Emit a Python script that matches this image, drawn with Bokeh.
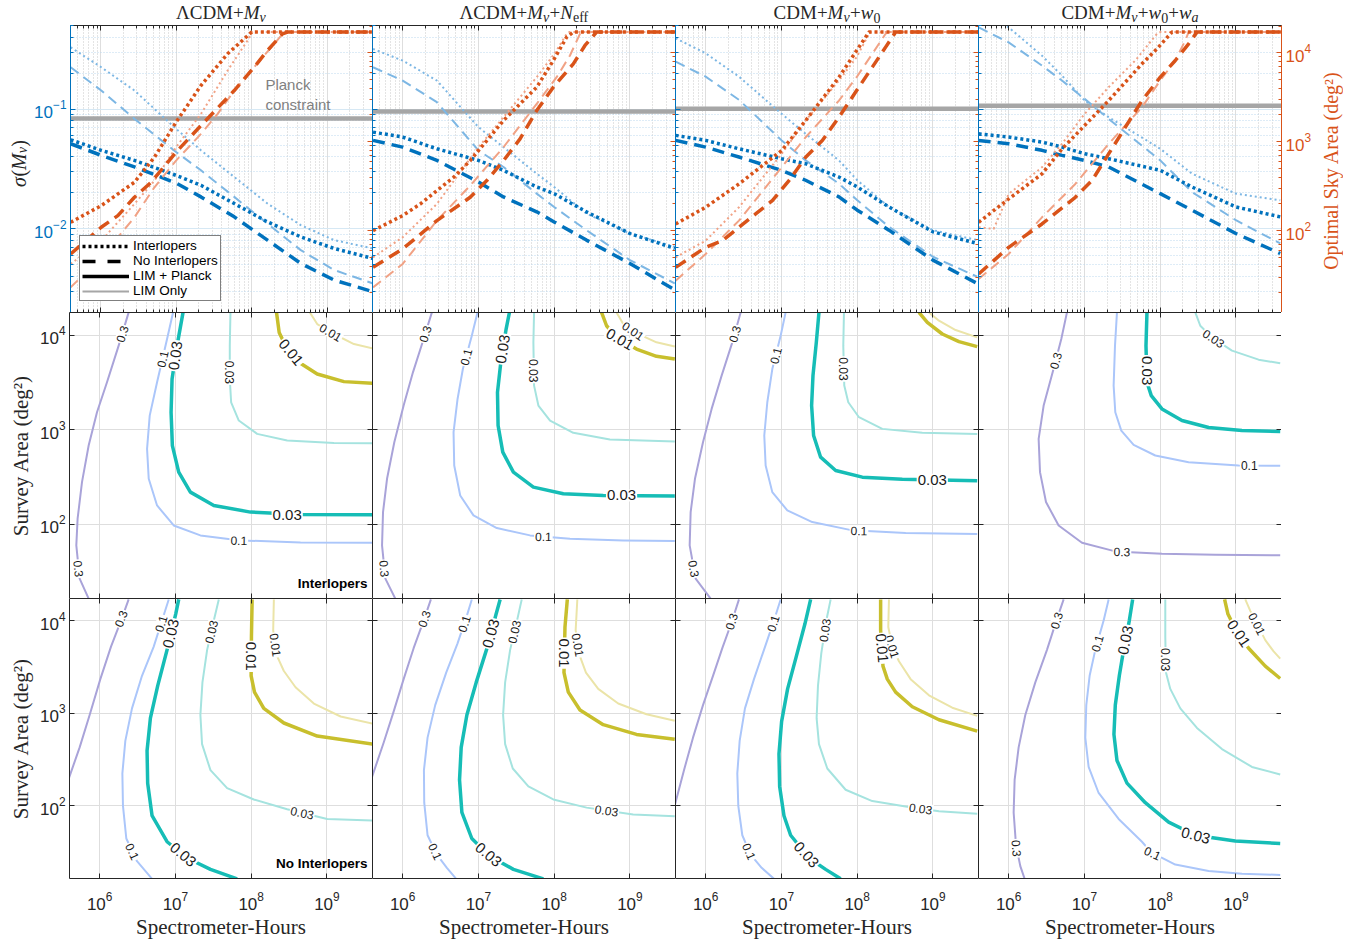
import math
from bokeh.plotting import figure
from bokeh.models import (Range1d, LogAxis, LogScale, FixedTicker, Grid, Label,
                          Legend, LegendItem, CustomJSTickFormatter)
from bokeh.layouts import column, row
from bokeh.embed import file_html
from bokeh.resources import INLINE
from bokeh.core.properties import value

# ----------------------------------------------------------------- data
X_RANGE = (4.0e5, 4.0e9)
SIGMA_RANGE = (0.002, 0.5)
OPT_AREA_RANGE = (12.0, 20300.0)
SURVEY_RANGE = (16.5, 17300.0)
X_TICKS = [1e6, 1e7, 1e8, 1e9]
SIGMA_TICKS = [1e-2, 1e-1]
AREA_TICKS = [1e2, 1e3, 1e4]

TITLES = [
    [("ΛCDM+", False, False), ("M", True, False), ("ν", True, True)],
    [("ΛCDM+", False, False), ("M", True, False), ("ν", True, True), ("+", False, False),
     ("N", True, False), ("eff", False, True)],
    [("CDM+", False, False), ("M", True, False), ("ν", True, True), ("+", False, False),
     ("w", True, False), ("0", False, True)],
    [("CDM+", False, False), ("M", True, False), ("ν", True, True), ("+", False, False),
     ("w", True, False), ("0", False, True), ("+", False, False), ("w", True, False),
     ("a", True, True)],
]
PLANCK_SIGMA = [0.0835, 0.0957, 0.101, 0.107]

# top row, sigma(M_nu): log10(hours) and log10(sigma) per panel
SIG_X = [
    [5.604, 6.009, 6.449, 7.000, 7.330, 7.771, 8.211, 8.652, 9.093, 9.608],
    [5.609, 6.000, 6.452, 7.000, 7.331, 7.770, 8.000, 8.426, 9.000, 9.593],
    [5.604, 6.000, 6.440, 7.003, 7.320, 7.760, 8.002, 8.420, 9.000, 9.585],
    [5.604, 6.000, 6.440, 6.704, 7.003, 7.320, 8.002, 8.420, 9.000, 9.585],
]
SIG_INT_PLANCK = [
    [-1.256, -1.344, -1.428, -1.553, -1.636, -1.789, -1.942, -2.067, -2.164, -2.247],
    [-1.192, -1.233, -1.331, -1.428, -1.511, -1.650, -1.706, -1.858, -2.039, -2.164],
    [-1.219, -1.261, -1.331, -1.414, -1.456, -1.567, -1.650, -1.817, -2.025, -2.122],
    [-1.206, -1.233, -1.275, -1.317, -1.372, -1.414, -1.511, -1.650, -1.817, -1.900],
]
SIG_NOINT_PLANCK = [
    [-1.289, -1.386, -1.483, -1.617, -1.733, -1.900, -2.094, -2.289, -2.428, -2.525],
    [-1.261, -1.317, -1.428, -1.608, -1.733, -1.858, -1.942, -2.094, -2.289, -2.511],
    [-1.261, -1.317, -1.400, -1.511, -1.594, -1.733, -1.844, -2.011, -2.261, -2.456],
    [-1.261, -1.289, -1.344, -1.386, -1.428, -1.483, -1.706, -1.844, -2.039, -2.206],
]
SIG_INT_LIM = [
    [-0.483, -0.650, -0.844, -1.164, -1.344, -1.567, -1.789, -1.969, -2.094, -2.164],
    [-0.497, -0.594, -0.761, -1.150, -1.317, -1.539, -1.650, -1.872, -2.039, -2.150],
    [-0.408, -0.533, -0.728, -1.039, -1.206, -1.428, -1.594, -1.817, -2.011, -2.094],
    [-0.136, -0.317, -0.553, -0.719, -0.928, -1.067, -1.331, -1.539, -1.706, -1.761],
]
SIG_NOINT_LIM = [
    [-0.650, -0.844, -1.081, -1.358, -1.511, -1.733, -1.956, -2.178, -2.344, -2.456],
    [-0.650, -0.761, -0.942, -1.344, -1.483, -1.706, -1.817, -2.011, -2.261, -2.456],
    [-0.603, -0.728, -0.922, -1.261, -1.428, -1.622, -1.761, -1.983, -2.233, -2.400],
    [-0.317, -0.442, -0.636, -0.761, -0.914, -1.081, -1.428, -1.692, -1.928, -2.122],
]

# top row, optimal sky area: (log10 hours, log10 deg^2) per panel
AREA_INT_PLANCK = [
    [(5.604, 2.094), (6.009, 2.281), (6.449, 2.544), (6.714, 2.826), (7.000, 3.220), (7.330, 3.632),
     (7.683, 3.989), (8.000, 4.233), (9.61, 4.233)],
    [(5.609, 2.000), (6.000, 2.169), (6.233, 2.300), (6.452, 2.450), (6.672, 2.600), (6.892, 2.788),
     (7.111, 3.013), (7.331, 3.238), (7.550, 3.426), (7.770, 3.613), (7.989, 3.914), (8.165, 4.176),
     (8.253, 4.233), (9.61, 4.233)],
    [(5.604, 2.075), (6.000, 2.263), (6.440, 2.525), (7.003, 2.901), (7.320, 3.238), (7.760, 3.726),
     (7.993, 4.026), (8.156, 4.233), (9.61, 4.233)],
    [(5.604, 2.094), (6.000, 2.356), (6.440, 2.638), (6.704, 2.919), (7.003, 3.182), (7.320, 3.463),
     (7.760, 3.876), (7.958, 4.045), (8.156, 4.233), (9.61, 4.233)],
]
AREA_NOINT_PLANCK = [
    [(5.604, 1.737), (6.009, 2.038), (6.229, 2.169), (6.449, 2.375), (6.670, 2.544), (7.000, 2.882),
     (7.330, 3.182), (7.771, 3.576), (8.035, 3.839), (8.211, 4.026), (8.410, 4.214), (8.476, 4.233),
     (9.61, 4.233)],
    [(5.609, 1.587), (6.000, 1.794), (6.452, 2.113), (6.892, 2.375), (7.111, 2.563), (7.331, 2.788),
     (7.550, 3.032), (7.770, 3.351), (7.989, 3.614), (8.253, 3.876), (8.407, 4.083), (8.560, 4.233),
     (9.61, 4.233)],
    [(5.604, 1.587), (6.000, 1.812), (6.220, 1.887), (6.440, 2.038), (6.660, 2.188), (6.880, 2.338),
     (7.100, 2.563), (7.320, 2.826), (7.540, 3.013), (7.760, 3.276), (7.993, 3.576), (8.200, 3.839),
     (8.376, 4.064), (8.508, 4.233), (9.61, 4.233)],
    [(5.604, 1.512), (6.000, 1.812), (6.440, 2.075), (6.880, 2.375), (7.100, 2.563), (7.320, 2.863),
     (7.540, 3.163), (7.760, 3.463), (8.002, 3.726), (8.200, 3.914), (8.376, 4.101), (8.486, 4.233),
     (9.61, 4.233)],
]
AREA_INT_LIM = [
    [(5.604, 1.625), (6.009, 1.887), (6.449, 2.300), (6.714, 2.563), (7.000, 2.938), (7.330, 3.313),
     (7.683, 3.801), (7.947, 4.139), (8.013, 4.233), (9.61, 4.233)],
    [(5.609, 1.700), (6.000, 1.925), (6.452, 2.300), (7.001, 2.938), (7.331, 3.276), (7.770, 3.726),
     (8.003, 3.989), (8.165, 4.214), (8.200, 4.233), (9.61, 4.233)],
    [(5.604, 1.700), (6.000, 1.887), (6.440, 2.263), (7.003, 2.863), (7.320, 3.238), (7.760, 3.689),
     (7.993, 3.951), (8.156, 4.214), (8.190, 4.233), (9.61, 4.233)],
    [(5.604, 2.038), (5.802, 2.019), (6.000, 2.413), (6.440, 2.713), (6.704, 2.976), (7.003, 3.313),
     (7.320, 3.613), (7.672, 3.914), (7.958, 4.214), (8.002, 4.233), (9.61, 4.233)],
]
AREA_NOINT_LIM = [
    [(5.604, 1.362), (6.009, 1.700), (6.449, 2.150), (6.714, 2.488), (7.000, 2.788), (7.330, 3.088),
     (7.551, 3.313), (7.771, 3.576), (8.035, 3.839), (8.300, 4.101), (8.432, 4.233), (9.61, 4.233)],
    [(5.609, 1.362), (6.000, 1.625), (6.452, 2.113), (6.892, 2.507), (7.331, 2.938), (7.770, 3.426),
     (8.033, 3.726), (8.209, 3.970), (8.341, 4.214), (8.370, 4.233), (9.61, 4.233)],
    [(5.604, 1.437), (6.000, 1.737), (6.440, 2.113), (7.003, 2.713), (7.320, 3.051), (7.760, 3.463),
     (7.993, 3.726), (8.200, 3.989), (8.376, 4.214), (8.400, 4.233), (9.61, 4.233)],
    [(5.604, 1.456), (6.000, 1.737), (6.440, 2.150), (6.880, 2.525), (7.320, 2.976), (7.760, 3.388),
     (8.002, 3.689), (8.200, 3.914), (8.332, 4.139), (8.376, 4.233), (9.61, 4.233)],
]

# contour rows: (level, thick, [(log10 hours, log10 area), ...]) per panel
MID_CONTOURS = [
    [("0.3", False, [(6.383, 4.239), (6.251, 3.888), (6.097, 3.501), (5.965, 3.185), (5.855, 2.833), (5.767, 2.446),
                     (5.709, 2.060), (5.692, 1.779), (5.736, 1.427), (5.855, 1.216)]),
     ("0.1", False, [(6.969, 4.239), (6.890, 3.958), (6.758, 3.501), (6.661, 3.149), (6.626, 2.798), (6.648, 2.482),
                     (6.758, 2.200), (6.978, 1.989), (7.330, 1.884), (7.859, 1.831), (8.652, 1.810), (9.608, 1.807)]),
     ("0.03", True, [(7.101, 4.239), (7.022, 3.888), (6.956, 3.536), (6.943, 3.185), (6.960, 2.833), (7.044, 2.552),
                     (7.198, 2.341), (7.507, 2.200), (7.991, 2.130), (8.652, 2.105), (9.608, 2.102)]),
     ("0.03", False, [(7.727, 4.239), (7.718, 3.888), (7.718, 3.536), (7.736, 3.290), (7.837, 3.097), (8.079, 2.956),
                      (8.476, 2.886), (9.093, 2.861), (9.608, 2.858)]),
     ("0.01", True, [(8.335, 4.239), (8.370, 4.028), (8.454, 3.888), (8.630, 3.712), (8.872, 3.589), (9.225, 3.508),
                     (9.608, 3.490)]),
     ("0.01", False, [(8.775, 4.239), (8.872, 4.116), (9.093, 4.011), (9.357, 3.905), (9.608, 3.859)])],
    [("0.3", False, [(6.386, 4.239), (6.277, 3.958), (6.136, 3.606), (6.013, 3.255), (5.890, 2.868), (5.794, 2.482),
                     (5.741, 2.130), (5.728, 1.779), (5.772, 1.427), (5.903, 1.216)]),
     ("0.1", False, [(6.988, 4.239), (6.913, 3.993), (6.795, 3.641), (6.725, 3.325), (6.672, 2.974), (6.681, 2.622),
                     (6.760, 2.306), (6.935, 2.095), (7.243, 1.961), (7.682, 1.884), (8.209, 1.849), (8.912, 1.831),
                     (9.593, 1.824)]),
     ("0.03", True, [(7.410, 4.239), (7.366, 4.063), (7.296, 3.712), (7.252, 3.395), (7.260, 3.044), (7.322, 2.763),
                     (7.462, 2.552), (7.726, 2.394), (8.121, 2.323), (8.648, 2.306), (9.593, 2.299)]),
     ("0.03", False, [(7.735, 4.239), (7.726, 3.923), (7.735, 3.466), (7.792, 3.255), (7.946, 3.097), (8.253, 2.967),
                      (8.736, 2.896), (9.593, 2.875)]),
     ("0.01", True, [(8.626, 4.239), (8.692, 4.098), (8.824, 3.975), (9.087, 3.852), (9.351, 3.775), (9.593, 3.747)]),
     ("0.01", False, [(8.824, 4.239), (8.912, 4.116), (9.087, 4.021), (9.351, 3.923), (9.593, 3.880)])],
    [("0.3", False, [(6.462, 4.239), (6.352, 3.923), (6.211, 3.571), (6.079, 3.220), (5.965, 2.868), (5.859, 2.482),
                     (5.802, 2.130), (5.789, 1.779), (5.868, 1.427), (6.066, 1.216)]),
     ("0.1", False, [(7.056, 4.239), (6.990, 3.993), (6.880, 3.641), (6.814, 3.290), (6.774, 2.939), (6.792, 2.622),
                     (6.880, 2.341), (7.078, 2.148), (7.408, 2.025), (7.936, 1.937), (8.640, 1.909), (9.585, 1.898)]),
     ("0.03", True, [(7.496, 4.239), (7.461, 3.923), (7.417, 3.571), (7.399, 3.255), (7.425, 2.939), (7.518, 2.710),
                     (7.716, 2.570), (8.068, 2.499), (8.596, 2.478), (9.585, 2.461)]),
     ("0.03", False, [(7.826, 4.239), (7.817, 3.888), (7.830, 3.466), (7.883, 3.290), (8.024, 3.132), (8.332, 3.009),
                      (8.860, 2.967), (9.585, 2.956)]),
     ("0.01", True, [(8.816, 4.239), (8.926, 4.134), (9.124, 4.011), (9.344, 3.930), (9.585, 3.877)]),
     ("0.01", False, [(8.948, 4.239), (9.080, 4.151), (9.300, 4.053), (9.585, 3.975)])],
    [("0.3", False, [(6.770, 4.239), (6.695, 3.958), (6.581, 3.606), (6.462, 3.255), (6.396, 2.903), (6.414, 2.552),
                     (6.493, 2.236), (6.660, 1.989), (6.968, 1.807), (7.408, 1.715), (8.024, 1.691), (8.728, 1.680),
                     (9.585, 1.673)]),
     ("0.1", False, [(7.430, 4.239), (7.404, 3.888), (7.386, 3.466), (7.408, 3.185), (7.487, 2.991), (7.650, 2.840),
                     (7.936, 2.728), (8.376, 2.657), (9.036, 2.622), (9.585, 2.619)]),
     ("0.03", True, [(7.826, 4.239), (7.813, 3.888), (7.826, 3.501), (7.883, 3.360), (8.024, 3.220), (8.288, 3.097),
                     (8.640, 3.023), (9.080, 2.991), (9.585, 2.981)]),
     ("0.03", False, [(8.464, 4.239), (8.530, 4.098), (8.684, 3.975), (8.948, 3.835), (9.300, 3.740), (9.585, 3.701)])],
]
BOT_CONTOURS = [
    [("0.3", False, [(6.383, 4.228), (6.282, 4.000), (6.150, 3.719), (6.009, 3.368), (5.868, 2.982), (5.736, 2.632),
                     (5.590, 2.290)]),
     ("0.1", False, [(6.912, 4.228), (6.837, 4.035), (6.714, 3.719), (6.559, 3.404), (6.427, 3.053), (6.339, 2.702),
                     (6.300, 2.351), (6.308, 2.000), (6.352, 1.649), (6.493, 1.404), (6.692, 1.214)]),
     ("0.03", True, [(7.044, 4.228), (7.004, 4.070), (6.890, 3.684), (6.767, 3.298), (6.670, 2.947), (6.626, 2.596),
                     (6.634, 2.246), (6.692, 1.895), (6.890, 1.614), (7.154, 1.439), (7.463, 1.316), (7.815, 1.214)]),
     ("0.03", False, [(7.573, 4.228), (7.507, 4.000), (7.419, 3.684), (7.357, 3.333), (7.330, 2.982), (7.352, 2.667),
                      (7.463, 2.386), (7.683, 2.193), (8.035, 2.070), (8.476, 1.965), (9.004, 1.860), (9.608, 1.842)]),
     ("0.01", True, [(8.013, 4.228), (8.004, 3.825), (8.000, 3.404), (8.044, 3.228), (8.167, 3.053), (8.432, 2.895),
                     (8.872, 2.754), (9.608, 2.667)]),
     ("0.01", False, [(8.300, 4.228), (8.291, 3.895), (8.344, 3.614), (8.432, 3.456), (8.586, 3.281), (8.828, 3.105),
                      (9.181, 2.965), (9.608, 2.888)])],
    [("0.3", False, [(6.373, 4.228), (6.277, 4.000), (6.145, 3.702), (6.013, 3.368), (5.881, 3.018), (5.750, 2.684),
                     (5.590, 2.300)]),
     ("0.1", False, [(6.913, 4.228), (6.848, 4.053), (6.725, 3.754), (6.575, 3.439), (6.430, 3.088), (6.329, 2.737),
                     (6.281, 2.386), (6.285, 2.035), (6.329, 1.684), (6.452, 1.474), (6.584, 1.333), (6.707, 1.214)]),
     ("0.03", True, [(7.287, 4.228), (7.234, 4.070), (7.120, 3.719), (6.971, 3.333), (6.848, 2.982), (6.773, 2.632),
                     (6.751, 2.281), (6.782, 1.930), (6.913, 1.649), (7.155, 1.456), (7.462, 1.316), (7.858, 1.214)]),
     ("0.03", False, [(7.572, 4.228), (7.515, 4.018), (7.419, 3.684), (7.353, 3.333), (7.326, 2.982), (7.353, 2.667),
                      (7.454, 2.404), (7.660, 2.211), (7.989, 2.070), (8.429, 1.982), (9.043, 1.909), (9.592, 1.888)]),
     ("0.01", True, [(8.174, 4.228), (8.143, 3.930), (8.130, 3.439), (8.187, 3.228), (8.341, 3.035), (8.648, 2.877),
                     (9.087, 2.772), (9.592, 2.719)]),
     ("0.01", False, [(8.306, 4.228), (8.284, 3.895), (8.341, 3.614), (8.420, 3.439), (8.582, 3.263), (8.846, 3.105),
                      (9.219, 2.989), (9.592, 2.919)])],
    [("0.3", False, [(6.440, 4.228), (6.343, 3.982), (6.220, 3.702), (6.097, 3.404), (5.965, 3.088), (5.833, 2.737),
                     (5.714, 2.386), (5.590, 2.000)]),
     ("0.1", False, [(6.990, 4.228), (6.902, 4.000), (6.770, 3.684), (6.638, 3.368), (6.519, 3.053), (6.449, 2.702),
                     (6.418, 2.351), (6.431, 2.000), (6.484, 1.684), (6.594, 1.474), (6.739, 1.333), (6.902, 1.214)]),
     ("0.03", True, [(7.386, 4.228), (7.311, 3.965), (7.197, 3.614), (7.082, 3.263), (7.003, 2.912), (6.968, 2.561),
                     (6.977, 2.211), (7.034, 1.895), (7.122, 1.684), (7.364, 1.439), (7.584, 1.316), (7.782, 1.214)]),
     ("0.03", False, [(7.650, 4.228), (7.593, 4.000), (7.527, 3.649), (7.483, 3.298), (7.465, 2.947), (7.496, 2.667),
                      (7.606, 2.404), (7.848, 2.175), (8.200, 2.053), (8.640, 1.993), (9.080, 1.944), (9.585, 1.916)]),
     ("0.01", True, [(8.310, 4.228), (8.310, 3.895), (8.341, 3.509), (8.398, 3.368), (8.508, 3.228), (8.728, 3.070),
                     (9.080, 2.930), (9.585, 2.807)]),
     ("0.01", False, [(8.420, 4.228), (8.411, 3.930), (8.464, 3.719), (8.552, 3.561), (8.706, 3.368), (8.948, 3.193),
                      (9.256, 3.060), (9.585, 2.972)])],
    [("0.3", False, [(6.726, 4.228), (6.638, 4.018), (6.506, 3.684), (6.352, 3.333), (6.220, 2.982), (6.132, 2.632),
                     (6.079, 2.281), (6.066, 1.930), (6.097, 1.579), (6.154, 1.351), (6.211, 1.214)]),
     ("0.1", False, [(7.320, 4.228), (7.254, 4.000), (7.144, 3.684), (7.069, 3.404), (7.025, 3.088), (7.012, 2.737),
                     (7.056, 2.421), (7.188, 2.140), (7.452, 1.860), (7.760, 1.614), (7.883, 1.500), (8.200, 1.368),
                     (8.640, 1.298), (9.080, 1.270), (9.585, 1.256)]),
     ("0.03", True, [(7.637, 4.228), (7.593, 4.000), (7.518, 3.684), (7.461, 3.404), (7.408, 3.088), (7.390, 2.772),
                     (7.430, 2.491), (7.562, 2.246), (7.804, 2.035), (8.112, 1.825), (8.464, 1.684), (8.992, 1.621),
                     (9.585, 1.596)]),
     ("0.03", False, [(8.068, 4.228), (8.068, 3.825), (8.077, 3.439), (8.134, 3.263), (8.266, 3.053), (8.486, 2.842),
                      (8.816, 2.614), (9.212, 2.421), (9.585, 2.340)]),
     ("0.01", True, [(8.851, 4.228), (8.895, 4.070), (8.992, 3.912), (9.168, 3.702), (9.388, 3.509), (9.585, 3.375)]),
     ("0.01", False, [(9.124, 4.228), (9.190, 4.105), (9.278, 3.965), (9.388, 3.789), (9.498, 3.667), (9.585, 3.589)])],
]

# contour labels: (log10 hours, log10 area, text, angle in degrees, thick)
MID_LABELS = [
    [(6.297, 4.011, "0.3", 73, False), (5.723, 1.532, "0.3", -84, False), (6.829, 3.747, "0.1", 77, False),
     (7.002, 3.782, "0.03", 82, True), (7.718, 3.606, "0.03", -90, False), (8.525, 3.817, "0.01", -51, True),
     (9.05, 4.028, "0.01", -31, False), (8.476, 2.102, "0.03", 0, True), (7.837, 1.831, "0.1", -1, False)],
    [(6.298, 4.011, "0.3", 73, False), (5.759, 1.532, "0.3", -85, False), (6.837, 3.768, "0.1", 75, False),
     (7.324, 3.852, "0.03", 81, True), (7.731, 3.624, "0.03", -90, False), (8.890, 2.306, "0.03", 0, True),
     (7.858, 1.872, "0.1", -1, False), (8.868, 3.954, "0.01", -30, True), (9.044, 4.044, "0.01", -34, False)],
    [(6.383, 4.011, "0.3", 74, False), (5.844, 1.532, "0.3", -80, False), (6.924, 3.782, "0.1", 76, False),
     (7.817, 3.641, "0.03", -90, False), (8.992, 2.471, "0.03", 0, True), (8.024, 1.933, "0.1", -1, False)],
    [(6.621, 3.729, "0.3", 75, False), (7.496, 1.712, "0.3", -1, False), (7.822, 3.624, "0.03", -90, True),
     (8.706, 3.963, "0.03", -34, False), (9.176, 2.622, "0.1", 0, False)],
]
BOT_LABELS = [
    [(6.28, 4.02, "0.3", 70, False), (6.81, 3.965, "0.1", 73, False), (6.942, 3.86, "0.03", 77, True),
     (7.473, 3.877, "0.03", 77, False), (8.002, 3.614, "0.01", -90, True), (8.321, 3.737, "0.01", -82, False),
     (6.433, 1.509, "0.1", -65, False), (7.101, 1.474, "0.03", -40, True), (8.674, 1.926, "0.03", -12, False)],
    [(6.285, 4.018, "0.3", 71, False), (6.812, 3.965, "0.1", 72, False), (7.166, 3.860, "0.03", 75, True),
     (7.474, 3.877, "0.03", 77, False), (8.136, 3.649, "0.01", -90, True), (8.316, 3.737, "0.01", -80, False),
     (6.432, 1.509, "0.1", -65, False), (7.132, 1.474, "0.03", -40, True), (8.692, 1.951, "0.03", -8, False)],
    [(6.34, 3.99, "0.3", 73, False), (6.89, 3.97, "0.1", 72, False), (7.573, 3.895, "0.03", 81, False),
     (8.326, 3.702, "0.01", -85, True), (8.464, 3.719, "0.01", -73, False), (6.576, 1.509, "0.1", -67, False),
     (7.329, 1.474, "0.03", -48, True), (8.838, 1.971, "0.03", -8, False)],
    [(6.631, 4.0, "0.3", 72, False), (6.106, 1.544, "0.3", -86, False), (7.168, 3.754, "0.1", 74, False),
     (7.543, 3.789, "0.03", 79, True), (8.072, 3.579, "0.03", -90, False), (9.036, 3.86, "0.01", -56, True),
     (9.278, 3.965, "0.01", -63, False), (7.90, 1.49, "0.1", -25, False), (8.47, 1.68, "0.03", -15, True)],
]

# ----------------------------------------------------------------- style
SERIF = "Liberation Serif"
SANS = "Liberation Sans"
DARK = "#262626"
BLUE = "#0072BD"
BLUE_L = "#7db7e4"
ORANGE = "#D95319"
ORANGE_L = "#f1a285"
PLANCK_GRAY = "#a6a6a6"
CONTOUR_COLORS = {("0.3", False): "#a9a3d9", ("0.1", False): "#abc6fa", ("0.03", False): "#a5e3df",
                  ("0.01", False): "#ebe4a8", ("0.03", True): "#16bdb6", ("0.01", True): "#c8bf2d"}
GRID = "#dedede"
GRID_MINOR = "#c9c9c9"
GRID_BLUE = "#d6e8f4"
GRID_BLUE_MINOR = "#bcd9ee"

FRAME_W = 303
LEFT_B = 69          # page edge -> first frame
SIG_STRIP = 31       # strip holding the sigma(M_nu) label
RIGHT_B = 37         # last frame -> right strip
AREA_STRIP = 25      # strip holding the right axis label
TITLE_H = 25
BOT_B = 56
ROW_H = [287, 286, 287]
TICK_FONT = "17px"
LABEL_FONT = "21px"

W_REG = {"Λ": 0.722, "C": 0.667, "D": 0.722, "M": 0.889, "+": 0.564, "N": 0.722, "e": 0.444, "f": 0.333,
         "0": 0.5, "(": 0.333, ")": 0.333}
W_IT = {"M": 0.833, "N": 0.667, "w": 0.667, "ν": 0.47, "σ": 0.52, "a": 0.5}

BLANK = CustomJSTickFormatter(code="return ''")


def minor_list(lo, hi):
    out = []
    for e in range(-4, 11):
        for m in range(2, 10):
            v = m * 10.0 ** e
            if lo <= v <= hi:
                out.append(v)
    return out


def rich(p, segs, x, y, vertical=False, color=DARK, size=19, sub_size=14, sub_shift=5):
    """Text made of pieces (roman / italic / subscript), anchored at the middle of each piece."""
    ws = []
    for t, it, sub in segs:
        s = sub_size if sub else size
        ws.append(sum((W_IT if it else W_REG).get(ch, 0.5) for ch in t) * s)
    pos = -sum(ws) / 2
    for (t, it, sub), w in zip(segs, ws):
        s = sub_size if sub else size
        if vertical:
            lx, ly, ang = x + (sub_shift if sub else 0), y + pos, math.pi / 2
        else:
            lx, ly, ang = x + pos, y - (sub_shift if sub else 0), 0.0
        p.add_layout(Label(x=lx, y=ly, x_units="screen", y_units="screen", text=t, angle=ang,
                           text_font=SERIF, text_font_size=f"{s}px",
                           text_font_style="italic" if it else "normal", text_color=color,
                           text_align="left", text_baseline="middle"))
        pos += w


def blank_fig(w, h, bl=0, br=0):
    p = figure(width=w, height=h, x_range=Range1d(0, 1), y_range=Range1d(0, 1),
               x_axis_type=None, y_axis_type=None, output_backend="svg", toolbar_location=None,
               min_border_left=bl, min_border_right=br, min_border_top=0, min_border_bottom=0)
    p.outline_line_color = None
    return p


def add_axis(p, side, ticks, minor, color, labels, range_name=None, standoff=4):
    kw = {}
    if range_name:
        kw["y_range_name"] = range_name
    if not labels:
        kw["formatter"] = BLANK
    ax = LogAxis(ticker=FixedTicker(ticks=ticks, minor_ticks=minor), **kw)
    ax.axis_line_color = color
    ax.major_tick_line_color = color
    ax.minor_tick_line_color = color if minor else None
    ax.major_tick_in = 5
    ax.major_tick_out = 0
    ax.minor_tick_in = 3
    ax.minor_tick_out = 0
    ax.major_label_text_color = color
    ax.major_label_text_font = SANS
    if labels:
        ax.major_label_text_font_size = TICK_FONT
        ax.major_label_standoff = standoff
    else:
        ax.major_label_text_font_size = "1px"
        ax.major_label_standoff = 0
    p.add_layout(ax, side)
    return ax


def add_grid(p, dim, ticks, minor, color, minor_color=None):
    g = Grid(dimension=dim, ticker=FixedTicker(ticks=ticks, minor_ticks=minor),
             grid_line_color=color, grid_line_width=1)
    if minor:
        g.minor_grid_line_color = minor_color
        g.minor_grid_line_dash = "1 2"
    p.add_layout(g)


def base_fig(r, c, yr):
    if r == 0:
        bl = LEFT_B - SIG_STRIP if c == 0 else 0
        br = RIGHT_B if c == 3 else 0
    else:
        bl = LEFT_B if c == 0 else 0
        br = 0
    bb = BOT_B if r == 2 else 0
    p = figure(width=FRAME_W + bl + br, height=ROW_H[r] + bb, x_range=Range1d(*X_RANGE),
               y_range=Range1d(*yr), x_axis_type=None, y_axis_type=None, output_backend="svg",
               toolbar_location=None, min_border_left=bl, min_border_right=br,
               min_border_top=0, min_border_bottom=bb)
    p.x_scale = LogScale()
    p.y_scale = LogScale()
    p.outline_line_color = None
    return p


def L10(vals):
    return [10.0 ** v for v in vals]


x_minor = minor_list(*X_RANGE)

# ----------------------------------------------------------------- title row
title_figs = []
for c in range(4):
    bl = LEFT_B if c == 0 else 0
    t = blank_fig(FRAME_W + bl, TITLE_H, bl=bl)
    rich(t, TITLES[c], FRAME_W / 2, 13)
    title_figs.append(t)

# ----------------------------------------------------------------- top row
sig_strip = blank_fig(SIG_STRIP, ROW_H[0])
rich(sig_strip, [("σ", True, False), ("(", False, False), ("M", True, False), ("ν", True, True),
                 (")", False, False)], 18, 149, vertical=True, size=20, sub_size=14, sub_shift=4)
area_strip = blank_fig(AREA_STRIP, ROW_H[0])
area_strip.add_layout(Label(x=12, y=142, x_units="screen", y_units="screen",
                            text="Optimal Sky Area (deg²)", angle=math.pi / 2, text_font=SERIF,
                            text_font_size="20px", text_color=ORANGE, text_align="center",
                            text_baseline="middle"))

top_figs = []
for c in range(4):
    p = base_fig(0, c, SIGMA_RANGE)
    p.extra_y_ranges = {"area": Range1d(*OPT_AREA_RANGE)}
    p.extra_y_scales = {"area": LogScale()}
    add_grid(p, 0, X_TICKS, x_minor, GRID, GRID_MINOR)
    add_grid(p, 1, SIGMA_TICKS, minor_list(*SIGMA_RANGE), GRID_BLUE, GRID_BLUE_MINOR)
    add_axis(p, "below", X_TICKS, x_minor, DARK, False)
    add_axis(p, "above", X_TICKS, x_minor, DARK, False)
    add_axis(p, "left", SIGMA_TICKS, minor_list(*SIGMA_RANGE), BLUE, c == 0)
    add_axis(p, "right", AREA_TICKS, minor_list(*OPT_AREA_RANGE), ORANGE, c == 3, "area")

    p.line(L10([math.log10(X_RANGE[0]), math.log10(X_RANGE[1])]),
           [PLANCK_SIGMA[c], PLANCK_SIGMA[c]], line_color=PLANCK_GRAY, line_width=4.5)

    xs = L10(SIG_X[c])
    p.line(xs, L10(SIG_INT_LIM[c]), line_color=BLUE_L, line_width=2, line_dash="2 3")
    p.line(xs, L10(SIG_NOINT_LIM[c]), line_color=BLUE_L, line_width=2, line_dash="10 6")
    p.line(xs, L10(SIG_INT_PLANCK[c]), line_color=BLUE, line_width=3.5, line_dash="3 3")
    p.line(xs, L10(SIG_NOINT_PLANCK[c]), line_color=BLUE, line_width=3.5, line_dash="12 7")

    for series, col, lw, dash in [(AREA_INT_LIM, ORANGE_L, 2, "2 3"),
                                  (AREA_NOINT_LIM, ORANGE_L, 2, "10 6"),
                                  (AREA_INT_PLANCK, ORANGE, 3.5, "3 3"),
                                  (AREA_NOINT_PLANCK, ORANGE, 3.5, "12 7")]:
        pts = series[c]
        p.line(L10([a for a, b in pts]), L10([b for a, b in pts]), y_range_name="area",
               line_color=col, line_width=lw, line_dash=dash, line_join="round")

    if c == 0:
        p.add_layout(Label(x=10 ** 8.184, y=10 ** -0.794, text="Planck", text_font=SANS,
                           text_font_size="15px", text_color="#7f7f7f", text_baseline="middle"))
        p.add_layout(Label(x=10 ** 8.184, y=10 ** -0.961, text="constraint", text_font=SANS,
                           text_font_size="15px", text_color="#7f7f7f", text_baseline="middle"))
        r1 = p.line([1e6], [1e-2], line_color="black", line_width=3.5, line_dash="3 3")
        r2 = p.line([1e6], [1e-2], line_color="black", line_width=3.5, line_dash="13 12")
        r3 = p.line([1e6], [1e-2], line_color="black", line_width=3.5)
        r4 = p.line([1e6], [1e-2], line_color=PLANCK_GRAY, line_width=2)
        leg = Legend(items=[LegendItem(label="Interlopers", renderers=[r1]),
                            LegendItem(label="No Interlopers", renderers=[r2]),
                            LegendItem(label="LIM + Planck", renderers=[r3]),
                            LegendItem(label="LIM Only", renderers=[r4])],
                     location=(9, 11), margin=0, padding=2, spacing=-7, label_standoff=4,
                     glyph_width=47, glyph_height=8, label_height=8,
                     label_text_font=SANS, label_text_font_size="13.5px", label_text_color="black",
                     border_line_color="black", border_line_width=1, background_fill_alpha=1.0)
        p.add_layout(leg)
    top_figs.append(p)


# ----------------------------------------------------------------- contour rows
def contour_fig(r, c, contours, labels, tag):
    p = base_fig(r, c, SURVEY_RANGE)
    add_grid(p, 0, X_TICKS, [], GRID)
    add_grid(p, 1, AREA_TICKS, [], GRID)
    xb = add_axis(p, "below", X_TICKS, [], DARK, r == 2, standoff=13)
    add_axis(p, "above", X_TICKS, [], DARK, False)
    yl = add_axis(p, "left", AREA_TICKS, [], DARK, c == 0)
    add_axis(p, "right", AREA_TICKS, [], DARK, False)
    if c == 0:
        yl.axis_label = "Survey Area (deg²)"
        yl.axis_label_text_font = SERIF
        yl.axis_label_text_font_size = LABEL_FONT
        yl.axis_label_text_font_style = "normal"
        yl.axis_label_text_color = DARK
        yl.axis_label_standoff = 4
    if r == 2:
        xb.axis_label = "Spectrometer-Hours"
        xb.axis_label_text_font = SERIF
        xb.axis_label_text_font_size = LABEL_FONT
        xb.axis_label_text_font_style = "normal"
        xb.axis_label_text_color = DARK
        xb.axis_label_standoff = 2
    for lev, thick, pts in contours:
        p.line(L10([a for a, b in pts]), L10([b for a, b in pts]),
               line_color=CONTOUR_COLORS[(lev, thick)], line_width=3.5 if thick else 2,
               line_join="round")
    for thick in (False, True):
        sel = [t for t in labels if t[4] == thick]
        if not sel:
            continue
        p.text(x=L10([t[0] for t in sel]), y=L10([t[1] for t in sel]), text=[t[2] for t in sel],
               angle=[t[3] for t in sel], angle_units="deg", text_align="center",
               text_baseline="middle", text_font=value(SANS),
               text_font_size="15px" if thick else "12px", text_color="#1a1a1a",
               background_fill_color="white", padding=1)
    if tag and c == 0:
        p.add_layout(Label(x=FRAME_W - 5, y=15, x_units="screen", y_units="screen", text=tag,
                           text_font=SANS, text_font_size="13.5px", text_font_style="bold",
                           text_color="black", text_align="right", text_baseline="middle"))
    return p


mid_figs = [contour_fig(1, c, MID_CONTOURS[c], MID_LABELS[c], "Interlopers") for c in range(4)]
bot_figs = [contour_fig(2, c, BOT_CONTOURS[c], BOT_LABELS[c], "No Interlopers") for c in range(4)]

layout = column(row(*title_figs),
                row(sig_strip, *top_figs, area_strip),
                row(*mid_figs),
                row(*bot_figs))
open("out.html", "w").write(file_html(layout, INLINE, "chart"))
